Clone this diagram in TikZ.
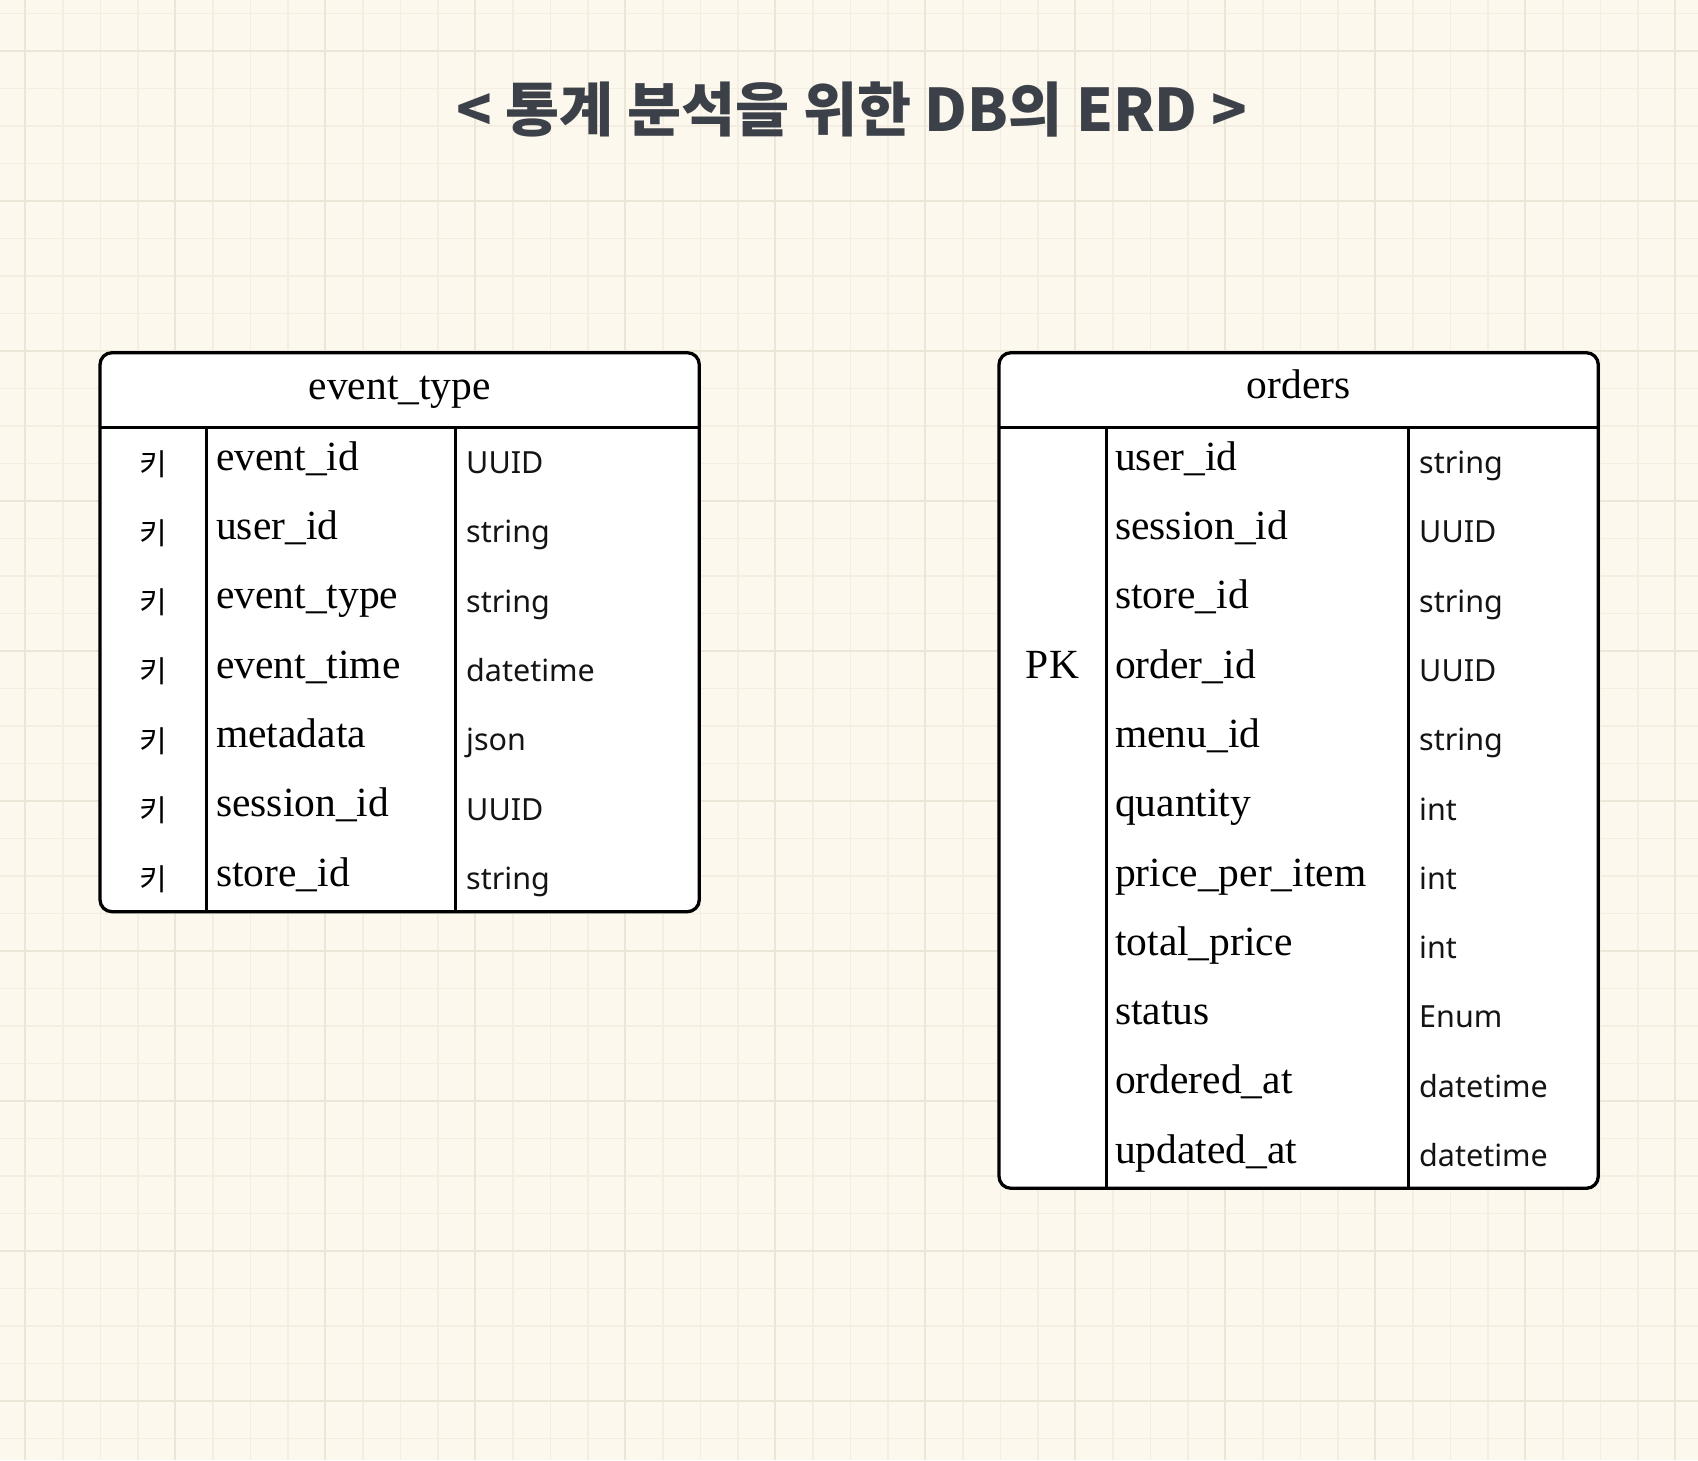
\documentclass[tikz,border=0pt]{standalone}
\usepackage{fontspec}
\setmainfont{Liberation Serif}
\newfontfamily\cjk{Noto Sans CJK KR}
\newfontfamily\typefont{Noto Sans}
\definecolor{bgcol}{HTML}{FCF8ED}
\definecolor{minorcol}{HTML}{F3EEE1}
\definecolor{majorcol}{HTML}{ECE6D7}
\definecolor{titlecol}{HTML}{3C4049}
\definecolor{typecol}{HTML}{141414}
\tikzset{
  minorgrid/.style={draw=minorcol, line width=1.6pt},
  majorgrid/.style={draw=majorcol, line width=2pt},
  tableframe/.style={draw=black, line width=3.3pt, rounded corners=12pt},
  tableline/.style={draw=black, line width=3pt},
  fieldtxt/.style={anchor=base west, inner sep=0pt, font=\fontsize{41.5}{48}\selectfont, text=black},
  headtxt/.style={anchor=base, inner sep=0pt, font=\fontsize{41.5}{48}\selectfont, text=black},
  typetxt/.style={anchor=base west, inner sep=0pt, font=\typefont\fontsize{30.5}{36}\selectfont, text=typecol},
  keytxt/.style={anchor=base, inner sep=0pt, font=\cjk\fontsize{30}{36}\selectfont, text=black},
  titletxt/.style={anchor=base, inner sep=0pt, font=\cjk\bfseries\fontsize{58.8}{66}\selectfont, text=titlecol}
}
\begin{document}
\begin{tikzpicture}[x=1pt,y=-1pt]
\useasboundingbox (0,0) rectangle (1698,1460);
\fill[bgcol] (0,0) rectangle (1698,1460);
% grid
\foreach \i in {0,...,44} {\draw[minorgrid] ({25.3+37.5*\i},0) -- ({25.3+37.5*\i},1460);}
\foreach \i in {0,...,38} {\draw[minorgrid] (0,{13.5+37.5*\i}) -- (1698,{13.5+37.5*\i});}
\foreach \i in {0,...,11} {\draw[majorgrid] ({25.3+150*\i},0) -- ({25.3+150*\i},1460);}
\foreach \i in {0,...,9} {\draw[majorgrid] (0,{51+150*\i}) -- (1698,{51+150*\i});}

% title
\node[titletxt] (title) at (851.8,131.5) {< 통계 분석을 위한 DB의 ERD >};

% ---------- table event_type ----------
\coordinate (e-nw) at (100,352.7);
\coordinate (e-se) at (699.3,911.7);
\fill[white, rounded corners=12pt] (e-nw) rectangle (e-se);
\coordinate (e-hl) at (100,427.3);
\coordinate (e-hr) at (699.3,427.3);
\coordinate (e-c1t) at (206,427.3);
\coordinate (e-c1b) at (206,911.7);
\coordinate (e-c2t) at (455.5,427.3);
\coordinate (e-c2b) at (455.5,911.7);
\draw[tableline] (e-hl) -- (e-hr);
\draw[tableline] (e-c1t) -- (e-c1b);
\draw[tableline] (e-c2t) -- (e-c2b);
\draw[tableframe] (e-nw) rectangle (e-se);
\node[headtxt] (e-head) at (399.7,399) {event\_type};
\foreach \f/\t [count=\i from 0] in {event\_id/UUID, user\_id/string, event\_type/string, event\_time/datetime, metadata/json, session\_id/UUID, store\_id/string} {
  \node[keytxt] (e-k\i) at (153,{475+69.3*\i}) {키};
  \node[fieldtxt] (e-f\i) at (216,{470.2+69.3*\i}) {\f};
  \node[typetxt] (e-t\i) at (466,{473.5+69.3*\i}) {\t};
}

% ---------- table orders ----------
\coordinate (o-nw) at (999,352.7);
\coordinate (o-se) at (1598.3,1188.3);
\fill[white, rounded corners=12pt] (o-nw) rectangle (o-se);
\coordinate (o-hl) at (999,427.3);
\coordinate (o-hr) at (1598.3,427.3);
\coordinate (o-c1t) at (1106,427.3);
\coordinate (o-c1b) at (1106,1188.3);
\coordinate (o-c2t) at (1408.3,427.3);
\coordinate (o-c2b) at (1408.3,1188.3);
\draw[tableline] (o-hl) -- (o-hr);
\draw[tableline] (o-c1t) -- (o-c1b);
\draw[tableline] (o-c2t) -- (o-c2b);
\draw[tableframe] (o-nw) rectangle (o-se);
\node[headtxt] (o-head) at (1298.7,398.5) {orders};
\node[headtxt] (o-pk) at (1052.5,678.3) {PK};
\foreach \f/\t [count=\i from 0] in {user\_id/string, session\_id/UUID, store\_id/string, order\_id/UUID, menu\_id/string, quantity/int, price\_per\_item/int, total\_price/int, status/Enum, ordered\_at/datetime, updated\_at/datetime} {
  \node[fieldtxt] (o-f\i) at (1115,{470.2+69.3*\i}) {\f};
  \node[typetxt] (o-t\i) at (1419,{473.5+69.3*\i}) {\t};
}
\end{tikzpicture}
\end{document}
